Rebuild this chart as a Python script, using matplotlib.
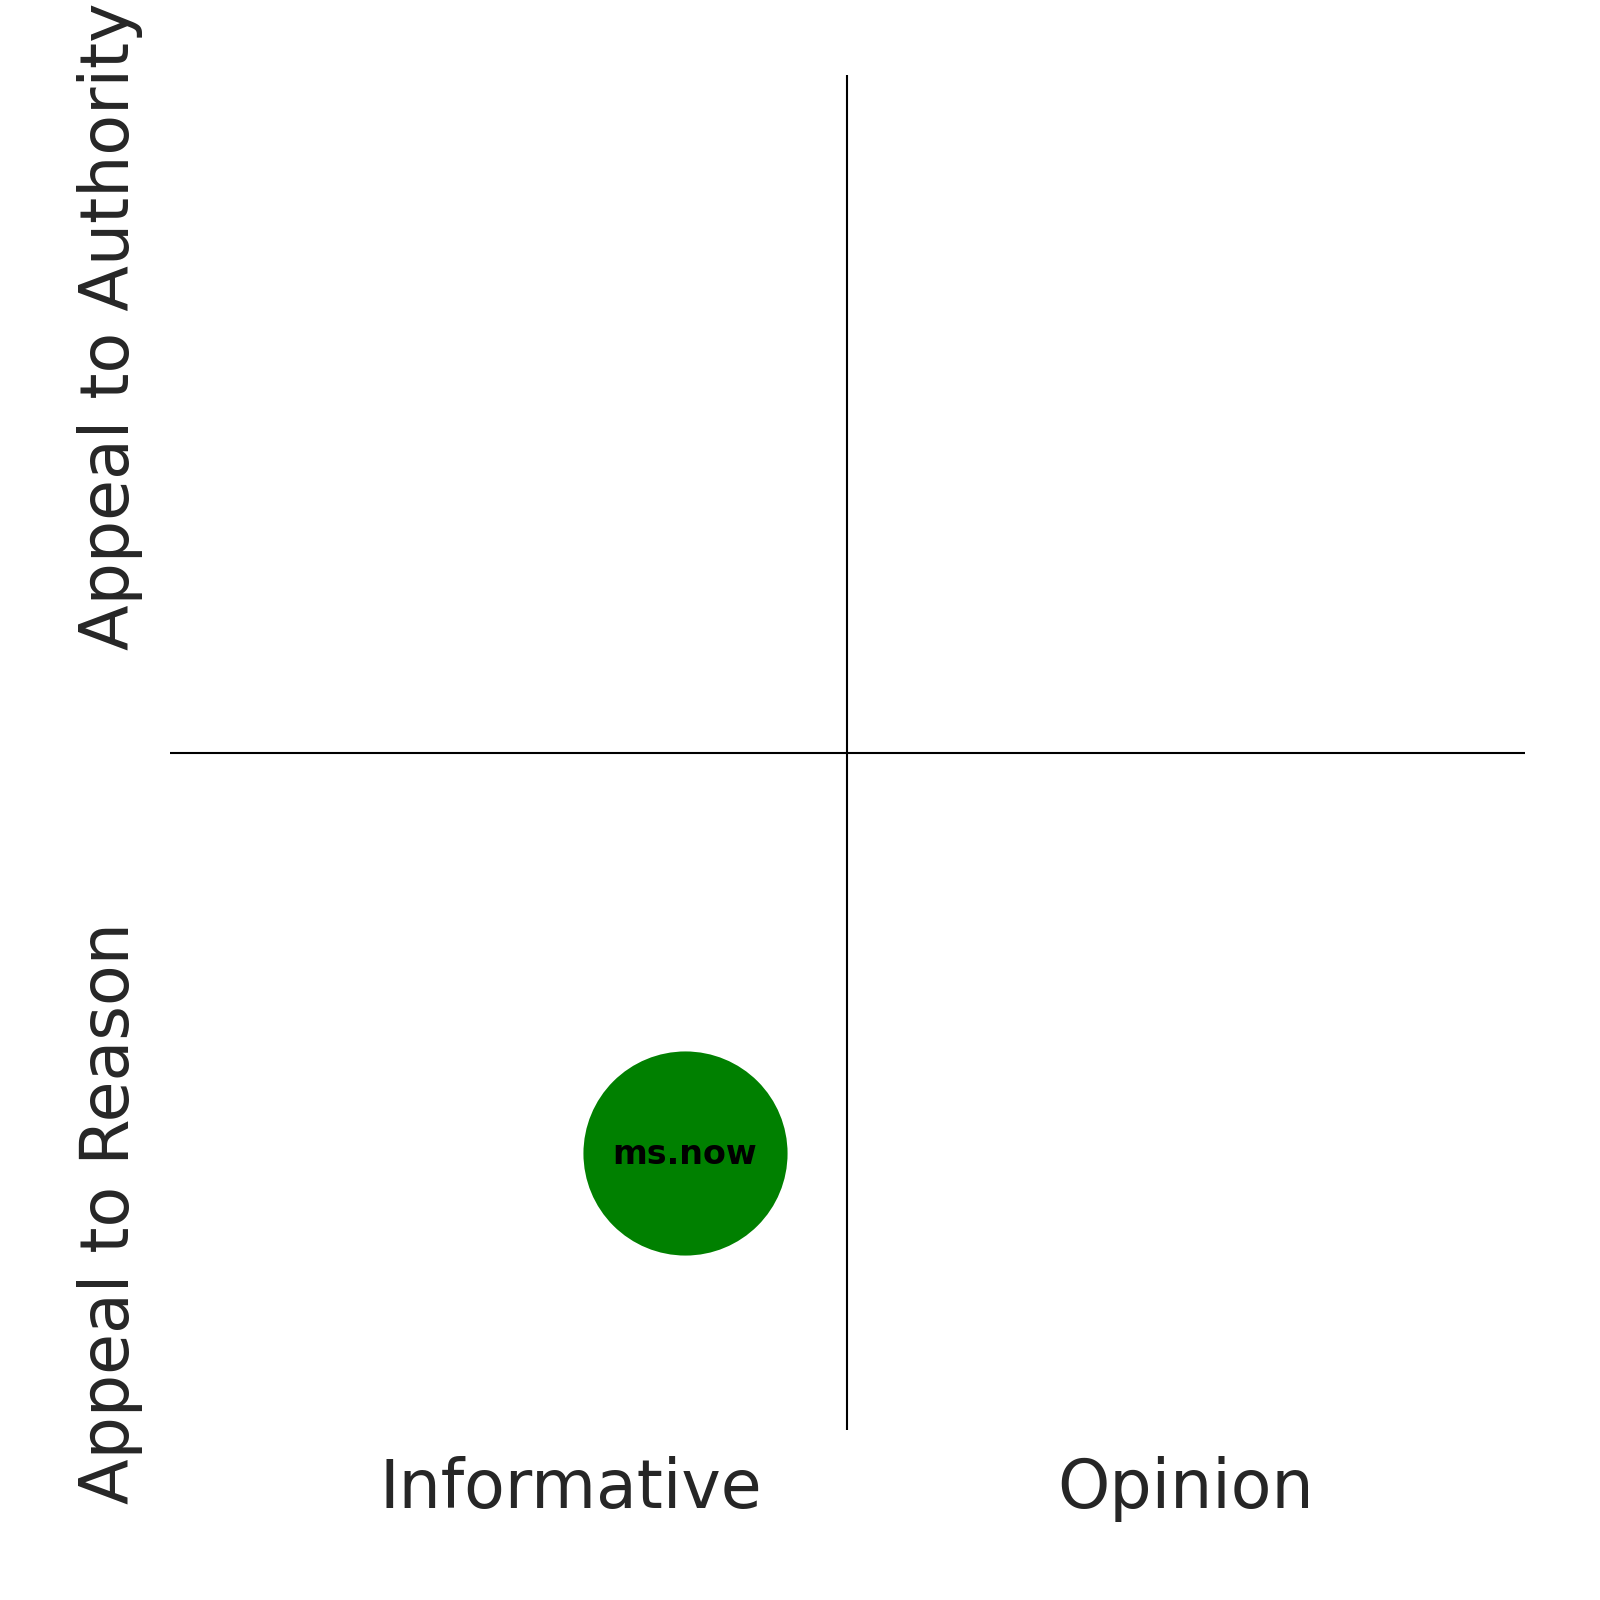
import matplotlib
matplotlib.use("Agg")
import matplotlib.pyplot as plt
import seaborn as sns

sns.set_style("white")

# sources placed on the quadrant (x: informative -> opinion, y: reason -> authority)
sources = ["ms.now"]
src_x = [-0.24]
src_y = [-0.59]
src_colors = ["green"]

x_labels = ["Informative", "Opinion"]
y_labels = ["Appeal to Reason", "Appeal to Authority"]

fig = plt.figure(figsize=(16, 16), dpi=100)
ax = fig.add_axes([0.106, 0.106, 0.847, 0.847])
ax.set_xlim(-1, 1)
ax.set_ylim(-1, 1)

ax.axvline(0, color="black", lw=1.5)
ax.axhline(0, color="black", lw=1.5)

ax.scatter(src_x, src_y, s=21600, c=src_colors, linewidths=0, zorder=3)
for name, x, y in zip(sources, src_x, src_y):
    ax.annotate(name, (x, y), xytext=(0, -1.5), textcoords="offset points",
                ha="center", va="center", fontsize=24,
                fontweight="bold", color="black", zorder=4)

# category labels around the quadrant
for lab, fx in zip(x_labels, [0.2957, 0.750]):
    ax.text(fx, -0.0576, lab, transform=ax.transAxes, ha="center",
            va="baseline", fontsize=48, color="#262626")
for lab, fy in zip(y_labels, [0.1606, 0.815]):
    ax.text(-0.0303, fy, lab, transform=ax.transAxes, rotation=90,
            rotation_mode="anchor", ha="center", va="baseline",
            fontsize=48, color="#262626")

ax.set_xticks([])
ax.set_yticks([])
for sp in ax.spines.values():
    sp.set_visible(False)

fig.savefig("out.png", dpi=100)
